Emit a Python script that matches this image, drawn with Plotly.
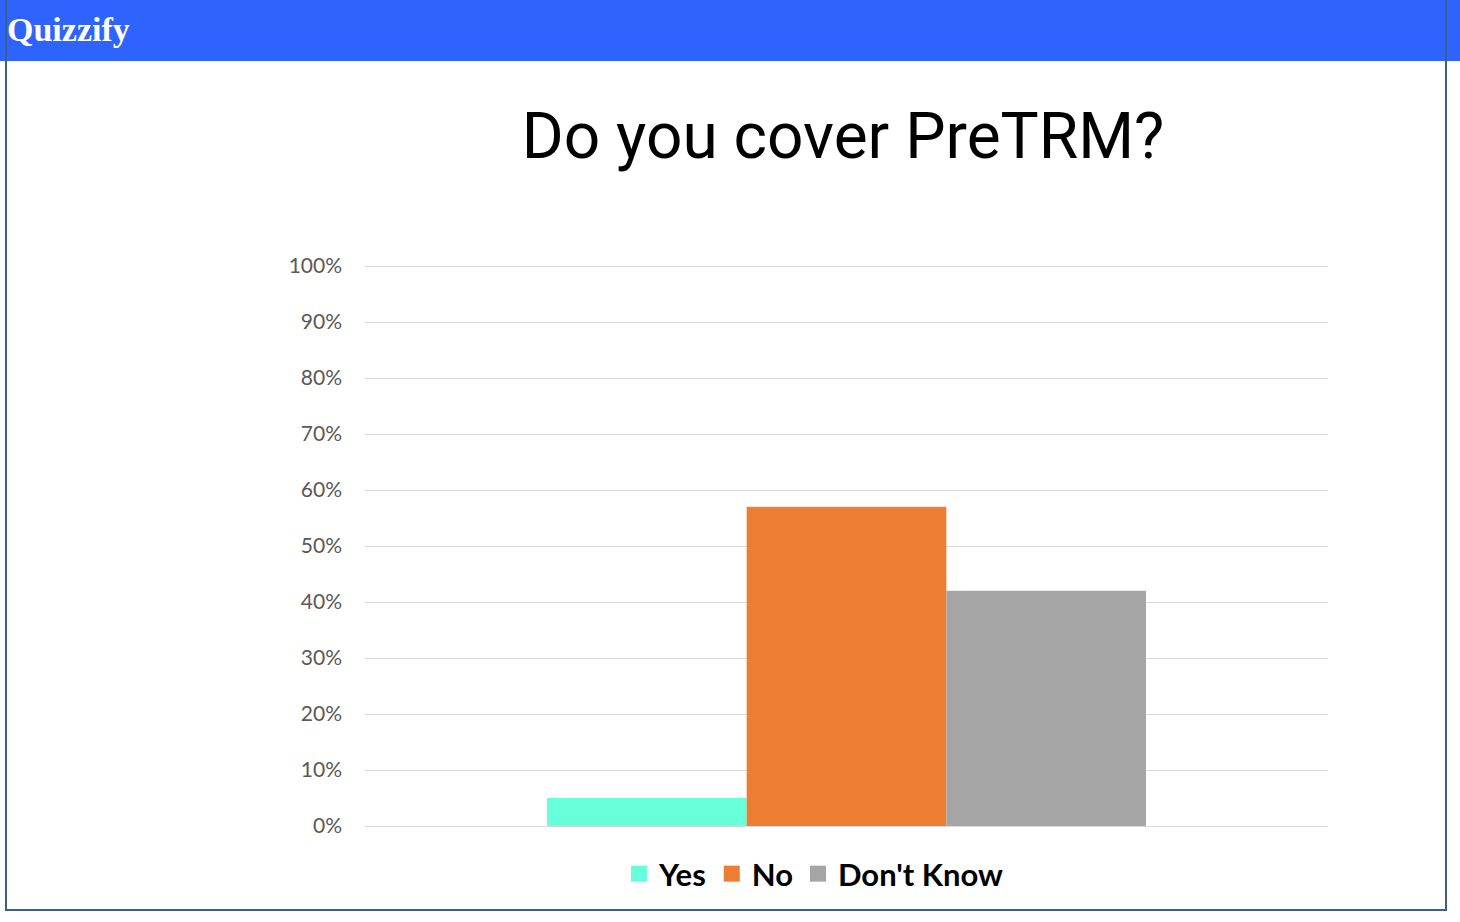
import plotly.graph_objects as go

# ---- data ----
category = [""]
series_names = ["Yes", "No", "Don't Know"]
series_values = [[5], [57], [42]]
series_colors = ["#66FFDA", "#ED7D31", "#A5A5A5"]
tick_vals = [0, 10, 20, 30, 40, 50, 60, 70, 80, 90, 100]
tick_text = [f"{v}%" for v in tick_vals]

W, H = 1460, 922
L, R, T, B = 365, 1328, 265, 826  # plot area in pixels
YMAX = 100.2


def px_x(p):
    return (p - L) / (R - L)


def px_y(p):
    return (B - p) / (B - T)


fig = go.Figure()
for name, vals, col in zip(series_names, series_values, series_colors):
    fig.add_trace(go.Bar(x=category, y=vals, name=name, showlegend=False,
                         marker=dict(color=col, line=dict(width=0))))
# legend entries with larger square swatches
for name, col in zip(series_names, series_colors):
    fig.add_trace(go.Scatter(x=[None], y=[None], mode="markers", name=name,
                             marker=dict(symbol="square", size=16, color=col),
                             hoverinfo="skip"))

fig.update_layout(
    width=W,
    height=H,
    margin=dict(l=L, r=W - R, t=T, b=H - B, pad=0, autoexpand=False),
    paper_bgcolor="white",
    plot_bgcolor="white",
    barmode="group",
    bargap=0.378,
    bargroupgap=0,
    title=dict(
        text="Do you cover PreTRM?",
        font=dict(family="Roboto", size=64, color="black"),
        x=843 / W,
        xanchor="center",
        xref="container",
        y=1 - 136 / H,
        yanchor="middle",
        yref="container",
    ),
    showlegend=True,
    legend=dict(
        orientation="h",
        xref="container",
        yref="container",
        x=814 / W,
        xanchor="center",
        y=1 - 874 / H,
        yanchor="middle",
        font=dict(family="Lato", size=31, color="black", weight="bold"),
        itemwidth=30,
        traceorder="normal",
    ),
    xaxis=dict(showticklabels=False, showgrid=False, zeroline=False, showline=False, range=[-0.5, 0.5]),
    yaxis=dict(
        range=[0, YMAX],
        tickvals=tick_vals,
        ticktext=tick_text,
        showgrid=True,
        gridcolor="#D9D9D9",
        gridwidth=1,
        zeroline=True,
        zerolinecolor="#D9D9D9",
        zerolinewidth=1,
        showline=False,
        tickfont=dict(family="Lato", size=21, color="#595959"),
        ticklabelstandoff=22,
    ),
)

# header bar
fig.add_shape(type="rect", xref="paper", yref="paper",
              x0=px_x(0), x1=px_x(W), y0=px_y(61), y1=px_y(0),
              fillcolor="#2E63FE", line=dict(width=0), layer="below")
# border
border_col = "#3A5F8E"
fig.add_shape(type="line", xref="paper", yref="paper", x0=px_x(6), x1=px_x(6), y0=px_y(0), y1=px_y(911),
              line=dict(color=border_col, width=2))
fig.add_shape(type="line", xref="paper", yref="paper", x0=px_x(1446), x1=px_x(1446), y0=px_y(0), y1=px_y(911),
              line=dict(color=border_col, width=2))
fig.add_shape(type="line", xref="paper", yref="paper", x0=px_x(6), x1=px_x(1446), y0=px_y(910), y1=px_y(910),
              line=dict(color=border_col, width=2))

fig.add_annotation(text="Quizzify", xref="paper", yref="paper", x=px_x(5), y=px_y(30),
                   xanchor="left", yanchor="middle", showarrow=False,
                   font=dict(family="Liberation Serif", size=34, color="white", weight="bold"))

fig.write_html("out.html", config={"displayModeBar": False},
               post_script="document.body.style.margin='0';")
